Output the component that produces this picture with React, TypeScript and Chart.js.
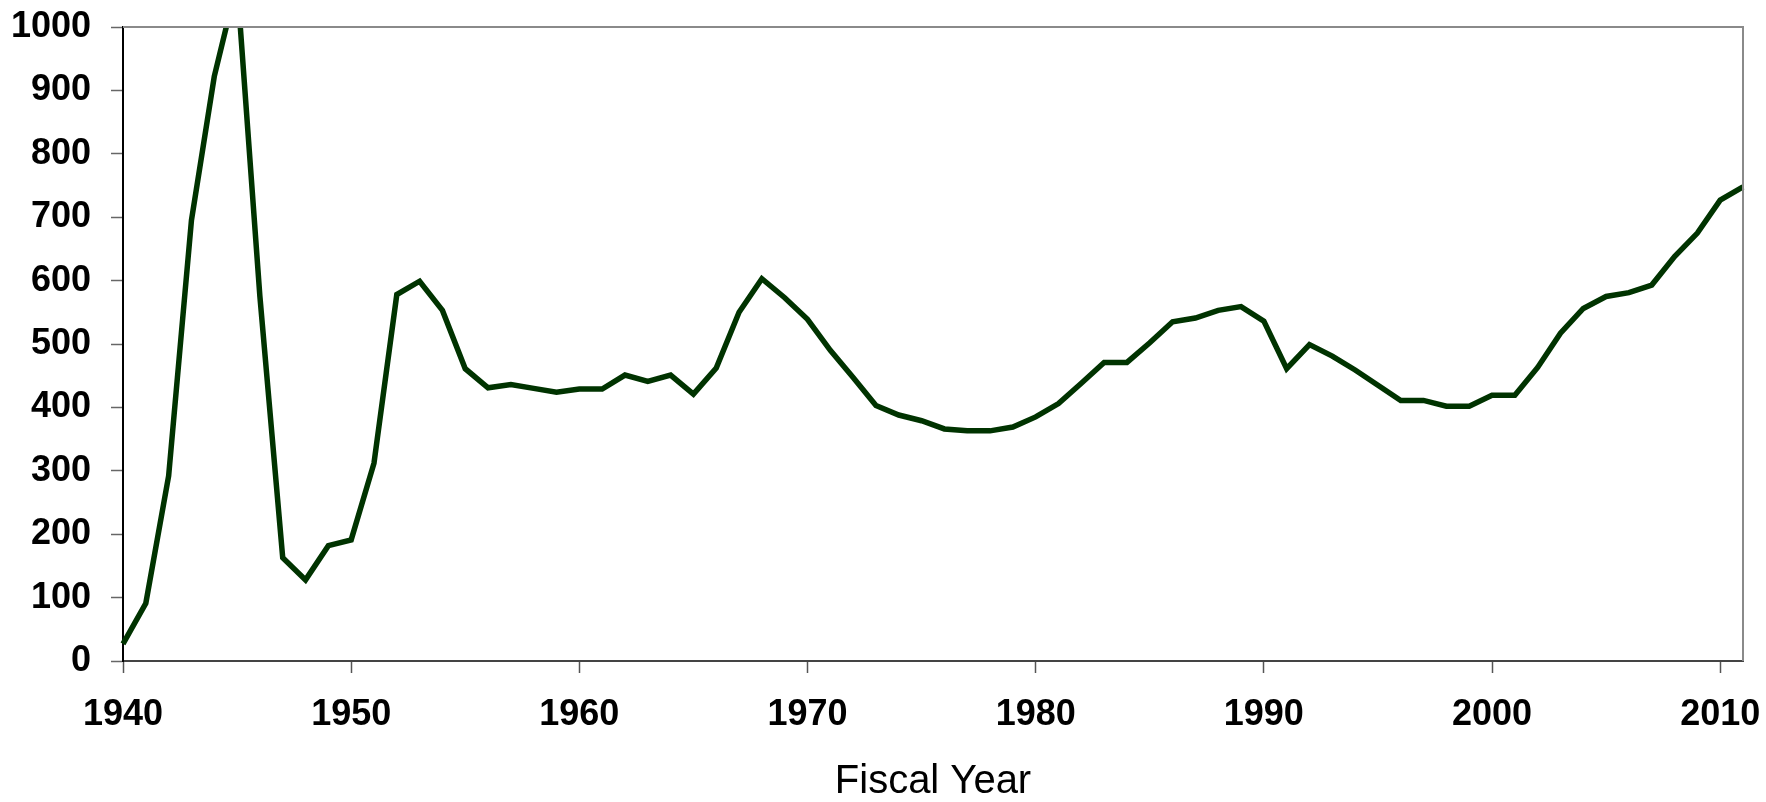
import React, { useEffect, useRef } from "react";
import { Chart, registerables } from "chart.js";

Chart.register(...registerables);

const years: number[] = [
  1940, 1941, 1942, 1943, 1944, 1945, 1946, 1947, 1948, 1949,
  1950, 1951, 1952, 1953, 1954, 1955, 1956, 1957, 1958, 1959,
  1960, 1961, 1962, 1963, 1964, 1965, 1966, 1967, 1968, 1969,
  1970, 1971, 1972, 1973, 1974, 1975, 1976, 1977, 1978, 1979,
  1980, 1981, 1982, 1983, 1984, 1985, 1986, 1987, 1988, 1989,
  1990, 1991, 1992, 1993, 1994, 1995, 1996, 1997, 1998, 1999,
  2000, 2001, 2002, 2003, 2004, 2005, 2006, 2007, 2008, 2009,
  2010, 2011,
];

const values: number[] = [
  27, 91, 292, 695, 922, 1070, 575, 163, 128, 182,
  191, 312, 578, 599, 553, 461, 431, 436, 430, 424,
  429, 429, 451, 441, 451, 421, 462, 550, 603, 573,
  539, 490, 447, 403, 388, 379, 366, 363, 363, 369,
  385, 406, 438, 471, 471, 502, 535, 541, 553, 559,
  536, 461, 499, 481, 459, 435, 411, 411, 402, 402,
  419, 419, 463, 517, 556, 575, 581, 593, 638, 675,
  727, 748,
];

const xTickLabels: number[] = [1940, 1950, 1960, 1970, 1980, 1990, 2000, 2010];
const xTitle = "Fiscal Year";
const xMin = 1940;
const xMax = 2011;
const yMin = 0;
const yMax = 1000;

const FONT = "'Liberation Sans', Arial, sans-serif";

const framePlugin = {
  id: "frame",
  afterDraw(chart: any) {
    const { ctx, chartArea } = chart;
    ctx.save();
    ctx.strokeStyle = "#8a8a8a";
    ctx.lineWidth = 2;
    ctx.beginPath();
    ctx.moveTo(chartArea.left, chartArea.top);
    ctx.lineTo(chartArea.right, chartArea.top);
    ctx.lineTo(chartArea.right, chartArea.bottom);
    ctx.stroke();
    ctx.restore();
  },
};

export default function App() {
  const ref = useRef<HTMLCanvasElement | null>(null);

  useEffect(() => {
    if (!ref.current) return;
    const chart = new Chart(ref.current, {
      type: "line",
      data: {
        datasets: [
          {
            data: years.map((y, i) => ({ x: y, y: values[i] })),
            borderColor: "#003300",
            borderWidth: 5.5,
            pointRadius: 0,
            tension: 0,
            fill: false,
            clip: { left: 4, right: 4, top: 0, bottom: 4 } as any,
            borderJoinStyle: "miter",
          },
        ],
      },
      options: {
        animation: false,
        responsive: false,
        devicePixelRatio: 1,
        layout: { padding: { top: 27, right: 23, left: 0, bottom: 0 } },
        plugins: {
          legend: { display: false },
          tooltip: { enabled: false },
        },
        scales: {
          x: {
            type: "linear",
            min: xMin,
            max: xMax,
            afterBuildTicks: (scale: any) => {
              scale.ticks = xTickLabels.map((v) => ({ value: v }));
            },
            afterFit: (scale: any) => {
              scale.height = 141;
              scale.paddingLeft = 0;
              scale.paddingRight = 0;
            },
            ticks: {
              autoSkip: false,
              maxRotation: 0,
              padding: 20,
              color: "#000",
              font: { family: FONT, size: 36, weight: "bold" },
              callback: (v: any) => String(v),
            },
            grid: {
              display: true,
              drawOnChartArea: false,
              drawTicks: true,
              tickLength: 12,
              tickWidth: 1.5,
              tickColor: "#555",
            },
            border: { display: true, color: "#444", width: 2 },
            title: {
              display: true,
              text: xTitle,
              color: "#000",
              font: { family: FONT, size: 40, weight: "normal", lineHeight: 1.0 },
              padding: { top: 0, bottom: 0 },
            },
          },
          y: {
            type: "linear",
            min: yMin,
            max: yMax,
            afterFit: (scale: any) => {
              scale.width = 123;
              scale.paddingTop = 0;
              scale.paddingBottom = 0;
            },
            ticks: {
              stepSize: 100,
              padding: 20,
              color: "#000",
              font: { family: FONT, size: 36, weight: "bold" },
              callback: (v: any) => String(v),
            },
            grid: {
              display: true,
              drawOnChartArea: false,
              drawTicks: true,
              tickLength: 12,
              tickWidth: 1.5,
              tickColor: "#666",
            },
            border: { display: true, color: "#000", width: 2 },
          },
        },
      },
      plugins: [framePlugin],
    });
    return () => chart.destroy();
  }, []);

  return (
    <div
      style={{
        position: "fixed",
        left: 0,
        top: 0,
        width: 1766,
        height: 802,
        background: "#fff",
      }}
    >
      <canvas ref={ref} width={1766} height={802} />
    </div>
  );
}
